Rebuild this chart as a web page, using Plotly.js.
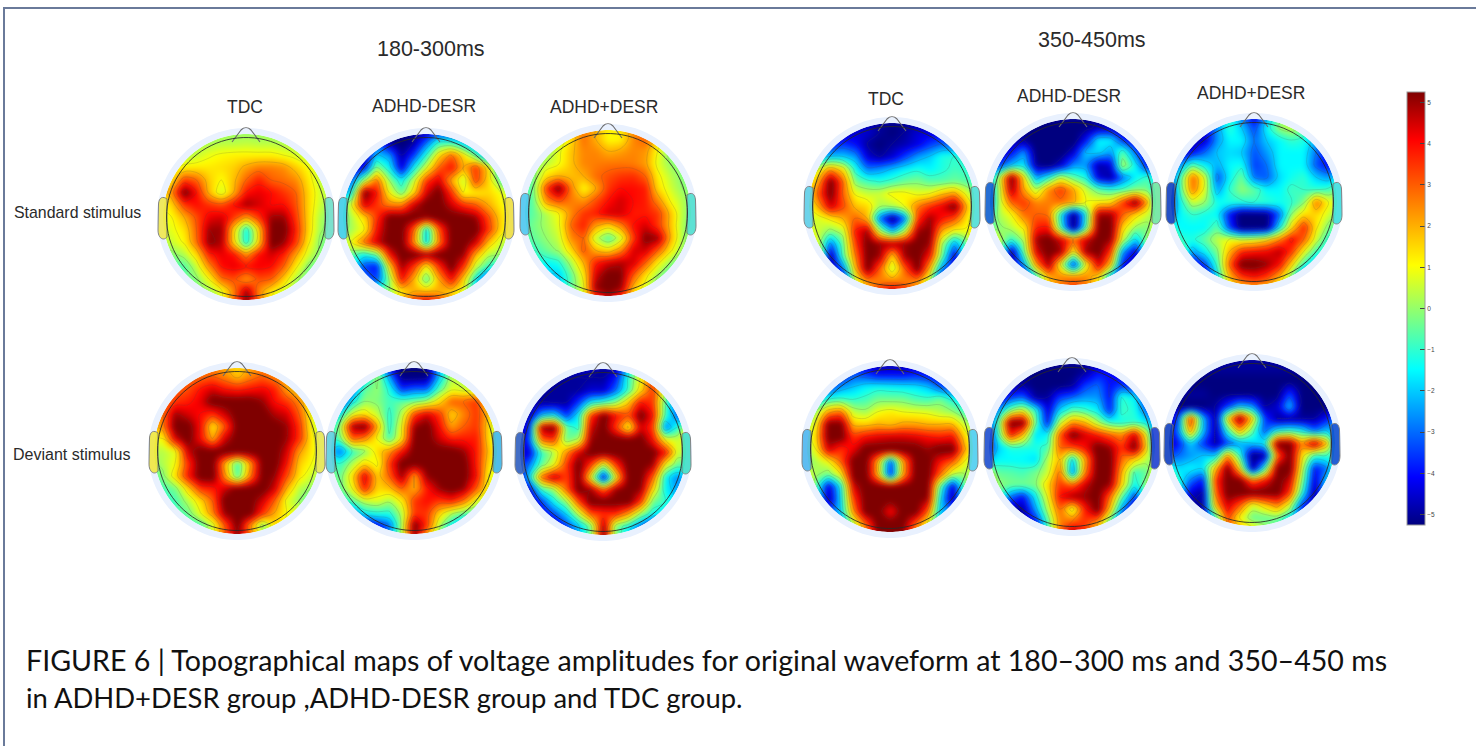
<!DOCTYPE html>
<html><head><meta charset="utf-8">
<script src="https://cdn.plot.ly/plotly-3.0.1.min.js"></script>
<style>html,body{margin:0;padding:0;background:#fff}#c{width:1476px;height:746px}
.hm image{filter:blur(2.6px)}
.contourlevel,.contourlines{filter:blur(.5px)}
</style>
</head><body><div id="c"></div>
<script>
var std180TDC=[
[0,0,0,0,0,0,0,0,0,0,0,0,0,0,0],
[-.2,-.2,0,.2,.2,.3,.3,.4,.3,.3,.2,.2,0,-.2,-.2],
[.2,.2,.3,.5,.9,1.1,1.2,1.2,1.2,1.2,1,.7,.3,0,-.2],
[.5,.8,1.2,1.3,1.3,1.4,1.6,2.2,2.6,2.6,2.4,1.7,1,.4,-.1],
[1,1.4,3.5,3,1.6,1,1.8,3,3.8,3,2.8,2.5,1.3,.4,0],
[1,2.5,5.5,4,1.8,.5,2,4,4.3,4,3.5,3,1.5,.6,.2],
[1,1.5,3.5,4,3.5,3.2,4,5,4.5,4,4,3.2,1.5,.5,0],
[.8,1,2,3.2,4.3,4.5,3.5,2.2,3.5,5,5,3.5,1.5,.2,-.2],
[.6,.8,1.4,3,5,5,1.5,-1.5,1.5,5.5,5.5,3.8,1.5,.1,-.4],
[.3,.5,1.1,2.8,5.2,4.8,1.5,-1.5,1.5,5.5,5,3.5,1.2,-.2,-.4],
[-.5,-.2,.3,1.5,3.8,4.3,4,2.5,4,4.5,3.8,2.2,.6,-.2,-.3],
[-.6,-.7,-.7,.5,2.5,4,4.3,4,4.2,4,3,1.2,-.2,-.6,-.5],
[-.5,-.5,-.4,-.2,1,2.8,3.2,2.2,3.2,3,1.6,.2,-.5,-.5,-.5],
[-.2,-.2,-.2,-.2,.1,.8,2.5,5,2.5,1.2,.5,.1,-.2,-.2,-.2],
[0,0,0,0,0,1,3,5.5,3,1,0,0,0,0,0]];
var std180Minus=[
[-5,-5,-5,-5,-5,-5,-5,-5,-4,-4,-4,-4,-4,-4,-4],
[-4,-4,-4,-3,-5,-5.5,-5,-3,-1,-1,-2,-3,-4,-4,-4],
[-5,-5,-5,-2,-2.5,-5,-3.5,-1,1.5,3,1.5,-.5,-3,-4,-4],
[-5,-5,-4,0,-1.5,-4.5,-1.5,.8,3,4,2,3.5,1.5,-2,-4],
[-4,-3,.5,3,0,-1.5,.5,3.5,4.5,2,.3,3.5,1.5,-.5,-2],
[-3,-1.5,5.5,4,1,-.5,1.5,4.5,5.5,3.5,1,1.2,1.5,1,0],
[-1.5,1,4.5,3.5,2.5,2.5,4.5,5.5,5.5,4.5,3.5,3,2,1.2,.5],
[-1,.3,1.5,3.5,5.5,5.5,5.5,5,5.5,5.5,5.5,5,3.2,1.5,.8],
[-.5,.2,1,4,5.5,5.5,3,-2,3,5.5,5.5,5.5,3.5,1.5,.5],
[0,1,3,4.5,5.5,5.5,2.5,-2,2.5,5.5,5.5,4.5,1.8,.5,.2],
[-.3,-.5,-1.5,-.5,4,5.5,5.5,5,5.5,5.5,5,2,.3,0,-.3],
[-1,-1.5,-3.5,-4,1.5,5,3.5,1,3.5,5.5,3.5,.5,-1,-1.5,-2],
[-2,-3,-3,-3.5,0,4,2,-.8,2,4,1.5,-1.5,-4,-3.5,-3],
[0,0,0,-.5,0,1.2,2,2,2,1.5,.8,-2,-3,-3,-3],
[0,0,0,0,1,2.5,4,5,4,2.5,0,-2,-3,-3,-3]];
var std180Plus=[
[0,0,0,.5,1.5,2.5,2,1.2,1.5,2.5,2.5,.5,0,0,0],
[-.5,-.5,-.3,.3,1.5,2.8,2,1,1.1,2.5,3,1.5,.2,0,0],
[-.5,-.3,0,.8,1.8,2.5,2.5,2,2.2,2.5,2.3,1,-.3,-.5,-.5],
[-.5,-.2,.4,.9,1.8,2.5,2.6,2.7,2.7,2.6,2.2,.8,0,-.3,-.5],
[-.8,-.3,1.5,2,1.8,2,2.8,3.2,3.5,3.6,3,1.2,.4,-.2,-.4],
[-1,-.3,3.5,5.5,2.5,1,2,3.5,4,4,3.8,1.5,.6,0,-.4],
[-1,-.5,2.5,3.2,2.6,2.3,3.2,4,4.5,4,3.8,2.5,1,.3,-.3],
[-1,-.5,.3,1,2.5,3.5,3.8,4.5,4.5,3.8,3.8,3.5,1.8,.3,-.5],
[-.8,-.3,.2,.8,3,3.8,2.2,1.5,2.5,4,4.5,3.5,1.8,.2,-.5],
[-.8,-.5,0,.5,2.5,3,.4,-.8,.5,3.5,5.3,5,2,.2,-.5],
[-1,-1,-.4,.1,1.5,3.2,2,1.5,2.5,4.5,4.5,3,1.2,0,-.5],
[-1,-1,-1.5,-1.2,.3,2,3.8,4.5,4.8,4.5,3,1.2,0,-.8,-1],
[-1.5,-1.5,-2,-2,-.5,1.2,4.5,5.5,5.3,3,1.3,.1,-1,-1.5,-1.5],
[-2,-2,-2.5,-2,-.5,.8,5,5.5,5,1.8,.7,-.5,-1,-1,-1],
[0,0,0,0,0,1,3,4.5,3,1,0,0,0,0,0]];
var std350TDC=[
[-5,-5,-5,-5,-5,-5,-5,-5,-5,-5,-5,-5,-5,-5,-5],
[-5,-5,-5,-5,-4.5,-4.5,-5,-5.3,-5,-4.5,-4.5,-4.5,-4,-4,-4],
[-4,-4,-4,-3.5,-4,-5,-5.3,-5,-4.8,-4.3,-3.5,-3,-3.2,-4,-4],
[-3,-2.5,-2,-2,-2.5,-4.5,-5,-4.5,-3.5,-2.5,-2,-1.2,-1,-1.5,-3],
[-.5,.8,2.5,1.5,-1.3,-2.8,-2.5,-2,-1.5,-1.2,-1.5,-1.2,-.8,-1,-2],
[.8,2,5.5,3,-.3,-.8,-1.1,-.8,-.4,-.2,-.6,-.6,-.4,-.6,-1.5],
[.8,3,5.5,3,.9,.5,.6,1.2,1.2,.8,1,1.8,2.3,.8,-.6],
[.5,2,4.5,3.3,1.8,1.5,.2,.3,1,2.7,3.6,4.3,5.5,2,-.2],
[.5,.6,1.2,2,3,2,-3,-5.5,-3,3.5,5,4,3.2,1.3,0],
[.7,.6,-.2,.3,4,5,.5,-2,.5,5,5.3,2,.8,.9,1.5],
[1.5,.8,-3,-.5,3.5,5.5,5,5,5,5.5,5,.3,-2.5,-.5,2.5],
[3,1.5,-5,-.8,2.8,5.5,5,1.5,5,5.5,4,-.3,-4.5,-.5,3],
[3,.5,-5,-3,2,5.5,3,.3,3,5.5,2,-2.5,-4.5,-.5,2],
[0,-3,-5,-5,1,2.5,2.5,2.5,2.5,2.5,.5,-5,-5,-3,0],
[0,-3,-5,-5,-1,2,4,5,4,2,-1,-5,-5,-3,0]];
var std350Minus=[
[-5,-5,-5,-5,-5,-5,-5,-5,-5,-5,-5,-5,-5,-5,-5],
[-5,-5,-5,-5,-5.3,-5.3,-5.3,-5.3,-5.3,-4.8,-4.8,-5,-5,-5,-5],
[-5,-5,-5,-5,-5.5,-5.5,-5.5,-5.5,-4,-1.5,-1.5,-3.5,-4.5,-5,-5],
[-5,-5,-4,-2.5,-5.5,-5.5,-5.5,-4.5,-2,-1.8,-2.5,-.5,-3,-5,-5],
[-5,-3.5,-2,-1.5,-5,-5.3,-4.5,-2.5,-2.5,-5,-4.5,.5,-1.5,-4,-5],
[-3,.3,5.5,1.5,-2.5,-1.2,.7,-.5,-1.2,-4.5,-5,-3,-1.5,-.8,-2],
[-3.5,.2,5,2.2,.3,2.5,3.5,2.2,.6,-.5,-1,-.8,-.2,-.3,-2.5],
[-4,.2,3,3.5,2.5,2.6,2.8,2.2,1,1.2,1.5,3.5,5.5,2,-3],
[-2,.2,1,2.8,3,2.8,-1.5,-5.5,-1.5,5,5,3,1.5,.5,-.5],
[-.5,-.2,.4,1.2,3.8,4,-1,-5.5,-1,5.5,5.5,1.5,0,-.3,1.5],
[2,.5,-1,.2,5,5.5,4.5,3,4.5,5.5,5,.6,-2,0,3],
[2.5,.2,-5,-.5,4.5,5.5,5,1,5,5.5,3.5,-2.5,-4.5,-.5,1.5],
[0,-2,-5,-2.5,2.5,5,.8,-4,.8,4.5,1.8,-4,-5,-3,-3],
[-1,-4,-5,-5,-1,2,2.5,2.5,2.5,1.5,-2,-5,-5,-5,-5],
[-1,-4,-5,-5,-.5,1.5,2.8,3.8,2.8,1,-1,-5,-5,-5,-5]];
var std350Plus=[
[-5,-5,-5,-5,-3,-1,-3,-4.5,-2.5,-.3,0,-1,-3,-4,-4],
[-5,-5,-5,-4.5,-2.5,-1,-2,-3.5,-1.5,.1,.5,-.5,-2.5,-4,-5],
[-5,-5,-5,-4.5,-2.5,-1.5,-1.5,-3,-2,-1.5,-1,-1.2,-2.5,-4.5,-5],
[-5,-5,-4,-3,-2,-1.8,-2,-3.3,-2.5,-1.5,-1.5,-1.5,-3,-4.3,-5],
[-4.5,-2.5,-.5,-1.5,-2.3,-1.5,-1.3,-3.5,-3,-1.5,-1.5,-1.5,-3.3,-4,-3.5],
[-4,-1,3,.8,-3.3,-1.5,-.3,-3,-3.2,-1.8,-1.3,-1,-2,-2.5,-1],
[-4.5,-1,2.8,.8,-2.5,-1,0,-.5,-1.5,-1.5,-.8,-1,-1,-.8,0],
[-4.5,-1.5,.5,0,-1.3,-1.2,-1.2,-1,-1,-1.3,-1.1,-.2,2.8,1,.5],
[-3.5,-1.5,-1,-1.3,-1.5,-4,-5.5,-5.5,-5.3,-3,0,1.5,1.5,.6,-.5],
[-.5,-1.5,-1.5,-1.5,-.5,-3.5,-5.5,-5.5,-5.3,-1.5,1.5,3.8,1.2,-.3,-1],
[1.5,-1,-1.2,-.5,.5,1,.8,1,1.6,2.7,4.2,3,.5,-1.2,-1],
[3,.2,-2.5,-1.5,-.2,2,3.7,4,4.2,4.8,3.5,1,-1,-1.5,-.8],
[2.5,-1,-4.5,-3.5,-.8,3,5.5,5.5,5,4,1.5,-1,-2.5,-1.5,-1.5],
[0,-3,-5,-5,-1.5,2,3.5,4,3.5,2,-.3,-3.5,-4.5,-4,-4],
[0,-3,-5,-5,-1,.8,1.5,1.8,1.3,.5,-1,-4,-5,-5,-5]];
var dev180TDC=[
[2.5,2.5,2.5,2.5,2.5,2.5,2,1.3,2,2.5,2.5,2,1,1,1],
[2.5,2.5,2.5,2.8,2.8,3,2.5,1.8,2.5,3,2.5,2,1.2,.5,.5],
[2.5,2.5,3,3.2,4,4.5,4,3.8,4,4.2,3.8,2.2,1.5,.5,.3],
[2.5,2.5,3.5,3.8,4.3,5.5,5.5,5.5,5.5,5,4,3.5,2.5,.8,0],
[2,2.8,5,4.5,4,3.5,4.5,5.5,5.5,5.5,4.8,4.5,3,.9,0],
[1.5,2.5,5.5,5.5,4,1.2,3,5.5,5.5,5.5,5.5,5,3.5,1,0],
[1,1,4.5,5.5,4,2,4.5,5.5,5.5,5.5,5.5,5,3.5,1.2,.3],
[.5,.3,.8,4.5,5.5,5.5,5.5,5.5,5.5,5.5,5.5,4.5,2.2,1.2,.5],
[-.3,.3,1,3.5,5.5,5.5,2,-1,2,5.5,5.5,4,1.6,1,.3],
[-.5,-.3,1.5,3.8,5.5,5.5,2.5,-.8,2.5,5.5,5,3.2,1.3,.5,0],
[-1,-.8,-.3,1.5,3.5,3.8,4.5,5.5,5.5,5.5,4.5,2,.3,0,-.3],
[-1,-1,-.8,.3,1.5,3,5.5,5.5,5.5,4.5,3,.8,0,-.8,-1],
[-1,-1,-.8,-.5,.9,2.5,5,5.5,5.5,3.5,2,1,.8,-.5,-1],
[-1,-1,-1,-1,-.8,.5,3,5.5,2.5,-.3,1.5,.8,0,-1,-1],
[-1,-1,-1,-1,0,1,3,5,3,1,0,-1,-1,-1,-1]];
var dev180Minus=[
[-4,-4,-4,-1,-2,-5,-5.3,-5.3,-5.3,-2,-.5,0,0,0,0],
[-4,-4,-4,-2,.2,-2.5,-5.3,-5.5,-5.3,-2,.4,.1,-.2,-.8,-1],
[-4,-4,-3,-.5,0,-1.2,-3.5,-3,-3,-.5,.8,.6,.5,-.5,-1],
[-5,-4,-1.5,0,-.2,-.8,-.5,-.3,.3,1.5,3,3,3.5,1,-.5],
[-3,-1.5,1,1.5,.5,-1.2,.3,3.5,4.5,3.5,1.5,2.5,3.5,1.8,-.5],
[-1.5,0,5,5.5,2,-1.3,1,5,5.5,4,2.2,3,3.5,1.5,-.8],
[-1.5,-.5,3,2.5,1,-.8,1.2,5.5,5.5,4.5,3.8,3.8,3.8,1.5,-.3],
[-1.5,-3,-1,-.2,1.5,2.5,4,5.5,5.5,5.5,5.5,5,3.8,1.8,.3],
[-.5,-1,.3,1.5,.8,3.5,5.5,5.5,5.5,5.5,5.5,5.5,3.8,1.5,.4],
[0,-.5,1.5,4.5,1.6,3,5,2,5,5.5,5.5,5.5,4,1,.3],
[-.5,-.5,1,3.8,1.5,1.8,3,2,3.8,5,5.5,5,3,1,.1],
[-2,-1.5,-.5,.5,.8,.2,1.2,3.5,4,3.5,3.8,2.8,.8,0,-.5],
[-4,-4,-3,-1.5,-1.2,-1.2,.3,3.5,3.5,1.5,.2,-.5,-1,-2,-3],
[-5,-5,-5,-5,-4,-3,.2,5.5,3.5,.3,-1.5,-3,-3.5,-4,-5],
[-5,-5,-5,-5,-5,-2,.5,5,1.5,-.5,-3,-4,-5,-5,-5]];
var dev180Plus=[
[-5,-5,-5,-5,-4.5,-4.5,-4.5,-5,-5,-2,.5,2,2,.5,0],
[-5,-5,-5,-5,-5,-5,-5,-5,-4,-1,1,3.3,1,-2,-3],
[-5,-5,-5,-5,-5,-5,-4.5,-4.5,-3,-.8,1.5,3.5,.3,-3,-4],
[-5,-5,-5,-5,-5,-3.5,-1.5,-.8,0,1.8,4,3.5,-.8,-3.5,-5],
[-5,-5,-2,-1.5,-3.5,-1.5,3.5,5.5,4,3.2,5.5,4,-1,-3,-5],
[-5,-4,5,5.5,-.5,-1.3,4.5,5.5,3.5,.8,4.5,3.5,-3,-1,1.5],
[-5,-3.5,3,3.5,-.5,.2,5,5.5,5.5,5.5,5.5,4,1,.5,1.5],
[-4.5,-4.5,-1,.2,2.5,4.5,5.5,5.5,5.5,5.5,5.5,5.5,4,.5,.5],
[-4,-3,-.5,.8,3.5,5.5,3.5,.5,3.5,5.5,5.5,5,1,-.5,-.5],
[-5,-2,3,4.8,3.3,5.5,1,-4.5,1,5.5,5.5,3,-1.5,-2.8,-1.5],
[-5,-4.5,-1,0,3,5.5,5,3,5,5.5,5,1.5,-1.5,-2.5,-1.5],
[-5,-5,-3.5,-1.5,0,3.3,5.5,5.5,5.5,5.5,3.5,-.3,-1,-2,-3],
[-5,-5,-4.5,-3.5,-2,.3,3,3.5,3.5,2,-.2,-1.5,-2,-4,-5],
[-5,-5,-5,-5,-3.5,-2.2,-.5,5,-.3,-1.5,-3,-4.5,-5,-5,-5],
[-5,-5,-5,-5,-4,-2,0,5.5,0,-2,-4,-5,-5,-5,-5]];
var dev350TDC=[
[-4,-4,-4,-4,-4,-4.5,-5,-5,-5,-4.5,-4,-4,-4,-4,-4],
[-4,-4,-4,-4,-3.2,-3.5,-4,-4,-4,-3.8,-4,-4.5,-5,-4,-4],
[-4,-4,-3.5,-2.5,-2,-1.5,-1.3,-1.4,-1.5,-1.6,-2,-3,-3.5,-3,-3],
[-3,-2,-1,-.8,-1,-.8,-.3,-.3,-.3,-.7,-.8,-.3,-1.2,-2,-2.5],
[-1,.2,2.5,3,.5,.2,1,1.3,1,.9,.8,.4,.1,-.7,-1.5],
[0,1,5.5,5.5,1.8,1.7,2,1.8,2.2,2.2,2,2,2,.6,-.5],
[0,1.5,5.5,5.5,3.5,4,4.3,4.5,4.5,4.3,4,3.8,4,1.5,0],
[-.2,1,4.5,3.5,4.3,5.5,5.5,5.5,5.5,5.5,5,5.5,5.5,2.2,0],
[-.5,.2,1,3,5.5,5.5,2,-3.5,2,5.5,5.5,4,3,1,-.3],
[1,.2,-.4,1,5.5,5.5,2,-4,2,5.5,5.5,3,.3,0,.5],
[1.5,-.5,-4.5,-1.5,4.5,5.5,5.5,5.5,5.5,5.5,5.5,-.5,-4.5,-.5,2.5],
[2,-1,-5,-1.8,3.5,5.5,5.5,5.5,5.5,5.5,5,-1.5,-5,-.8,2.5],
[2,-2,-3.5,-2,2.5,5.5,5.5,4,5.5,5.5,3,-2,-3,-1.5,1],
[0,-2,-3,-3,.5,3,5.5,5.5,5.5,3,1,-2,-2.5,-2,0],
[0,-2,-3,-3,0,2,5,5.5,5,2,.5,-2,-3,-2,0]];
var dev350Minus=[
[-5,-5,-5,-5,-5,-5,-5,-5,-5,-5,-5,-5,-5,-5,-5],
[-5,-5,-5,-5,-5.3,-5.3,-5.3,-5.3,-5,-4,-4,-4.5,-5,-5,-5],
[-5,-5,-5,-5,-5.3,-5.3,-5.3,-5,-3.5,-3,-4,-3.5,-4,-5,-5],
[-5,-5,-3.5,-3,-5,-5,-3.5,-3,-2.5,-2.5,-4,-1,-1.5,-4,-5],
[-5,-2.5,0,1,-1,-4.5,-1.8,-.5,-.8,-1.5,-3.8,-.8,-1.2,-3,-5],
[-4,-1,5.5,5.5,-.5,-4,.5,2.5,2,.3,-1,-1.3,-1,-1.5,-3.5],
[-5,-1.2,4,2,-1.8,-1.5,3,5.5,4.5,3.8,3,2.5,4.5,1,-5],
[-5,-2,-1.2,-1.2,-1.2,-.8,3,3.3,4,5.5,5,3.5,5.5,1.5,-4],
[-2.5,-1.5,-1.5,-1.5,-1.8,.3,2,-2,2,5.5,5.5,2.8,1.5,.3,-.5],
[1,-.5,-.6,-.8,-.3,.5,3,-3,2.5,5.5,5.5,2,-1,-.5,2],
[2.5,0,-.3,-.3,-.2,1.5,3.5,3,4.5,5.5,5,1.5,-1.5,0,3],
[1,-.5,-3,-4,-1.5,1,4,5,5,5.5,3,-.5,-3.5,-1,1.5],
[-3,-4,-5,-5,-2.5,.3,3,.5,3.8,5.5,1.8,-2.5,-5,-4,-1],
[-5,-5,-5,-5,-4,-.7,2.5,3,3.5,2.5,-.5,-4,-5,-5,-5],
[-5,-5,-5,-5,-4,-1,3,5.5,3.5,1,-1,-5,-5,-5,-5]];
var dev350Plus=[
[-5,-5,-5,-5,-5,-5,-5,-5,-5,-5,-5,-5,-5,-5,-5],
[-5,-5,-5,-5,-5,-5,-5,-5,-5,-5,-5,-5,-5,-5,-5],
[-5.3,-5.3,-5.3,-5.3,-5.3,-5.3,-5.3,-5.3,-5.3,-5.3,-5.3,-5.3,-5.3,-5.3,-5.3],
[-5,-5,-5,-5,-5.3,-5.3,-5.3,-5.3,-5.3,-5.3,-3.5,-5.3,-5.3,-5.3,-5],
[-5.3,-5.3,-5.3,-5.3,-5,-3.5,-2,-2.5,-5,-4.5,-2,-5.3,-5.3,-5.3,-5],
[-5,-3.5,4,-2,-5,1.5,5.5,1.5,-3.5,-5,-5,-5,-5,-4,-2],
[-5,-3,2.5,-2,-5,-1,2,-.5,-3.3,-1.5,-1,-1.5,-3,-2,-3],
[-5,-4,-2,-3.5,-5,-3.5,-2.5,-2,-1.5,5.5,5.5,2.5,5,2,-4],
[-3.5,-3,-2.5,-2,-2,2.5,-1,-5.5,-5,3,5.5,1.5,-1,-1,-1],
[-.5,-1.8,-1.5,-1.8,2,5.5,1.5,-5,-1,5.5,5.5,.8,-4,-3,.5],
[1.5,-1,-3,-4,3.5,5.5,5.5,3,4,5.5,4.5,0,-4.5,-2,2],
[2.5,-1,-4.5,-5,3,5.5,5.5,5.5,5.5,5.5,3.5,-1,-5,-1.5,3],
[0,-3,-5,-5,2,4.5,3,.5,1.5,2.5,.7,-3.5,-5,-4,0],
[-3,-5,-5,-5,-1,3.5,1,-.5,-.5,-.3,-1.5,-4,-5,-5,-5],
[-5,-5,-5,-5,-2,2.5,2,1.5,.3,-.8,-3,-5,-5,-5,-5]];

var tickValues=[-5,-4,-3,-2,-1,0,1,2,3,4,5];
var groupLabels=['TDC','ADHD-DESR','ADHD+DESR'];
var windowLabels=['180-300ms','350-450ms'];
var rowLabels=['Standard stimulus','Deviant stimulus'];
var captionLines=['FIGURE 6 | Topographical maps of voltage amplitudes for original waveform at 180–300 ms and 350–450 ms','in ADHD+DESR group ,ADHD-DESR group and TDC group.'];

var maps=[
 {z:std180TDC,cx:246,cy:217,l:'#f0e850',r:'#70e0c8'},
 {z:std180Minus,cx:426,cy:217,l:'#40d0e8',r:'#f0e040'},
 {z:std180Plus,cx:608,cy:213,l:'#50c8f0',r:'#50e0d0'},
 {z:std350TDC,cx:892,cy:206,l:'#60d0e8',r:'#50e0d8'},
 {z:std350Minus,cx:1073,cy:202,l:'#1060d0',r:'#70e8a0'},
 {z:std350Plus,cx:1254,cy:202,l:'#1040c0',r:'#40e0e0'},
 {z:dev180TDC,cx:237,cy:451,l:'#f0e840',r:'#e8e850'},
 {z:dev180Minus,cx:414,cy:451,l:'#60d0e0',r:'#40b8e8'},
 {z:dev180Plus,cx:603,cy:452,l:'#3060c0',r:'#40e0c8'},
 {z:dev350TDC,cx:890,cy:449,l:'#50b8f0',r:'#50d0f0'},
 {z:dev350Minus,cx:1072,cy:447,l:'#2050d0',r:'#2040d0'},
 {z:dev350Plus,cx:1252,cy:443,l:'#1040c0',r:'#1050d0'}
];
var STEP=12.4, H=STEP*7, DISC=83, HEAD=79.5;

function circle(cx,cy,r){var s='';for(var i=0;i<=90;i++){var a=i/90*2*Math.PI;
  s+=(i?'L':'M')+(cx+r*Math.cos(a)).toFixed(2)+' '+(cy+r*Math.sin(a)).toFixed(2)+' ';}return s+'Z';}
function ear(cx,cy,s){var a=cx+s*79,b=cx+s*88;
  return 'M'+a+' '+(cy-18)+' C'+(a+s*4)+' '+(cy-21)+' '+(b-s*1)+' '+(cy-20)+' '+(b-s*.5)+' '+(cy-13)+
   ' L'+b+' '+(cy+13)+' C'+b+' '+(cy+22)+' '+(a+s*3)+' '+(cy+24)+' '+a+' '+(cy+20)+' Z';}
function nose(cx,cy){return 'M'+(cx-14)+' '+(cy-75)+' L'+(cx-5)+' '+(cy-87)+' C'+(cx-2)+' '+(cy-90)+' '+(cx+2)+' '+(cy-90)+' '+(cx+5)+' '+(cy-87)+' L'+(cx+14)+' '+(cy-75);}

var traces=maps.map(function(m){return {
  type:'contour',z:m.z,x0:m.cx-H,dx:STEP,y0:m.cy-H,dy:STEP,
  coloraxis:'coloraxis',autocontour:false,zsmooth:'best',
  contours:{coloring:'heatmap',start:-5,end:5,size:1,showlines:true},
  line:{color:'rgba(70,70,70,0.28)',width:0.6,smoothing:1},hoverinfo:'skip'};});

var shapes=[];
maps.forEach(function(m){
  var x=m.cx,y=m.cy,q=Math.ceil(H)+6;
  shapes.push({type:'path',xref:'x',yref:'y',fillrule:'evenodd',fillcolor:'#fff',line:{width:0},
    path:'M'+(x-q)+' '+(y-q)+' L'+(x+q)+' '+(y-q)+' L'+(x+q)+' '+(y+q)+' L'+(x-q)+' '+(y+q)+' Z '+circle(x,y,DISC)});
});
maps.forEach(function(m){
  var x=m.cx,y=m.cy;
  shapes.push({type:'path',xref:'x',yref:'y',line:{color:'#e9f1fe',width:6},path:circle(x,y,DISC+3)});
  shapes.push({type:'path',xref:'x',yref:'y',fillcolor:m.l,opacity:.9,line:{color:'#777',width:1},path:ear(x,y,-1)});
  shapes.push({type:'path',xref:'x',yref:'y',fillcolor:m.r,opacity:.9,line:{color:'#777',width:1},path:ear(x,y,1)});
  shapes.push({type:'path',xref:'x',yref:'y',line:{color:'#6a6a6a',width:1.1},path:nose(x,y)});
  shapes.push({type:'path',xref:'x',yref:'y',line:{color:'rgba(40,40,40,0.85)',width:1},path:circle(x,y,HEAD)});
});
shapes.push({type:'line',xref:'x',yref:'y',x0:3,x1:1476,y0:8,y1:8,line:{color:'#6a7a9a',width:2}});
shapes.push({type:'line',xref:'x',yref:'y',x0:4,x1:4,y0:8,y1:746,line:{color:'#6a7a9a',width:2}});

function label(t,x,y,size,anchor,font,color){return {text:t,x:x,y:y,xref:'x',yref:'y',showarrow:false,
  xanchor:anchor||'center',yanchor:'middle',font:{size:size,family:font||'Liberation Sans, Arial, sans-serif',color:color||'#2a2a2a'}};}
var ann=[
 label(windowLabels[0],431,49,21.5),label(windowLabels[1],1092,40,21.5),
 label(groupLabels[0],245,107,17.5),label(groupLabels[1],424,106,17.5),label(groupLabels[2],604,107,17.5),
 label(groupLabels[0],886,99,17.5),label(groupLabels[1],1069,96,17.5),label(groupLabels[2],1251,93,17.5),
 label(rowLabels[0],12,212,15.9,'left'),label(rowLabels[1],11,454,16,'left'),
 label(captionLines[0],24,660,28.6,'left','Lato, sans-serif','#111'),
 label(captionLines[1],24,697,27.4,'left','Lato, sans-serif','#111')
];

var layout={width:1476,height:746,margin:{l:0,r:0,t:0,b:0},paper_bgcolor:'#fff',plot_bgcolor:'#fff',showlegend:false,
 xaxis:{range:[0,1476],visible:false,fixedrange:true},
 yaxis:{range:[746,0],visible:false,fixedrange:true},
 coloraxis:{cmin:-5.25,cmax:5.25,
  colorscale:[[0,'#00007f'],[.11,'#0000ff'],[.36,'#00ffff'],[.6,'#ffff00'],[.89,'#ff0000'],[1,'#7f0000']],
  colorbar:{x:1407/1476,xanchor:'left',y:(746-525)/746,yanchor:'bottom',lenmode:'pixels',len:433,thicknessmode:'pixels',thickness:18,
   xpad:0,ypad:0,outlinecolor:'#999',outlinewidth:1,tickvals:tickValues,ticks:'inside',ticklen:5,tickcolor:'#444',tickwidth:1,
   tickfont:{size:6.5,color:'#444',family:'Liberation Sans, Arial, sans-serif'}}},
 shapes:shapes,annotations:ann};
Plotly.newPlot('c',traces,layout,{displayModeBar:false,staticPlot:true});
</script></body></html>
